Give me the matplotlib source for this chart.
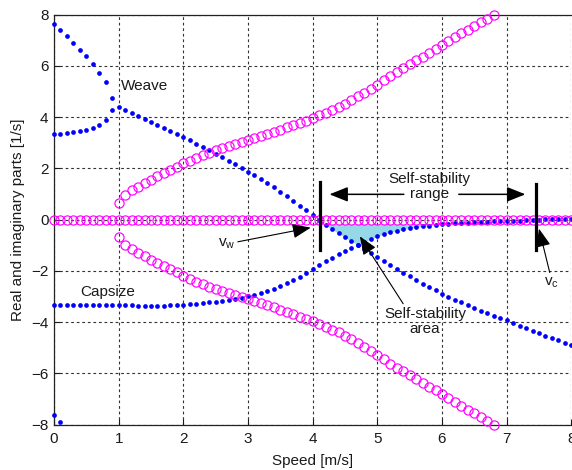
import numpy as np
import matplotlib
matplotlib.use('Agg')
import matplotlib.pyplot as plt

plt.rcParams['font.family'] = ['Liberation Sans', 'DejaVu Sans']
plt.rcParams['mathtext.fontset'] = 'custom'
plt.rcParams['mathtext.rm'] = 'Liberation Sans'
plt.rcParams['mathtext.default'] = 'regular'

# speed grid [m/s], one sample every 0.1
speed = np.round(np.arange(81) * 0.1, 1)

# real part: upper branch at v<1, then weave real part
weave_re = [7.64, 7.41, 7.18, 6.90, 6.63, 6.37, 6.09, 5.74, 5.37, 4.74,
            4.39, 4.29, 4.16, 4.04, 3.93, 3.80, 3.68, 3.56, 3.45, 3.34,
            3.22, 3.10, 2.97, 2.84, 2.71, 2.58, 2.45, 2.31, 2.17, 2.03,
            1.88, 1.73, 1.58, 1.42, 1.26, 1.09, 0.92, 0.74, 0.55, 0.36,
            0.17, -0.02, -0.20, -0.37, -0.53, -0.69, -0.84, -0.99, -1.15, -1.31,
            -1.47, -1.63, -1.78, -1.93, -2.07, -2.21, -2.35, -2.49, -2.62, -2.75,
            -2.88, -3.00, -3.12, -3.23, -3.34, -3.45, -3.55, -3.65, -3.75, -3.84,
            -3.93, -4.03, -4.13, -4.23, -4.33, -4.42, -4.52, -4.61, -4.71, -4.80,
            -4.90]

# second positive real root before it joins the weave (v = 0 .. 0.9)
speed_low = speed[:10]
lower_re = [3.33, 3.33, 3.37, 3.41, 3.45, 3.49, 3.58, 3.69, 3.90, 4.27]

# capsize mode
capsize_re = [-3.31, -3.31, -3.31, -3.31, -3.31, -3.31, -3.31, -3.31, -3.31, -3.31,
              -3.31, -3.32, -3.34, -3.35, -3.35, -3.35, -3.35, -3.35, -3.34, -3.33,
              -3.31, -3.30, -3.28, -3.26, -3.23, -3.20, -3.17, -3.13, -3.09, -3.04,
              -2.99, -2.93, -2.87, -2.80, -2.71, -2.60, -2.48, -2.36, -2.22, -2.07,
              -1.92, -1.77, -1.62, -1.48, -1.35, -1.22, -1.10, -0.98, -0.86, -0.75,
              -0.65, -0.56, -0.49, -0.43, -0.38, -0.33, -0.29, -0.26, -0.23, -0.20,
              -0.18, -0.16, -0.14, -0.13, -0.11, -0.10, -0.09, -0.08, -0.07, -0.06,
              -0.05, -0.04, -0.035, -0.03, -0.02, 0.0, 0.01, 0.02, 0.03, 0.03,
              0.04]

# castering mode, only the first two points are inside the plot
speed_cast = [0.0, 0.1]
castering_re = [-7.63, -7.89]

# weave imaginary part (+/-), visible from 1.0 to 6.8 m/s
speed_im = speed[10:69]
weave_im = [0.66, 0.97, 1.14, 1.28, 1.42, 1.56, 1.69, 1.82, 1.94, 2.06,
            2.20, 2.31, 2.42, 2.52, 2.62, 2.71, 2.79, 2.87, 2.95, 3.03,
            3.10, 3.17, 3.25, 3.33, 3.42, 3.51, 3.60, 3.69, 3.78, 3.87,
            3.97, 4.08, 4.18, 4.29, 4.40, 4.53, 4.67, 4.81, 4.96, 5.11,
            5.27, 5.45, 5.62, 5.77, 5.91, 6.07, 6.22, 6.36, 6.51, 6.66,
            6.81, 6.97, 7.13, 7.28, 7.41, 7.55, 7.70, 7.85, 8.00]

# imaginary part of the real modes
zero_im = np.zeros(len(speed))

v_weave = 4.12
v_capsize = 7.45

weave_re = np.array(weave_re)
capsize_re = np.array(capsize_re)
weave_im = np.array(weave_im)

fig = plt.figure(figsize=(5.72, 4.70), dpi=100)
ax = fig.add_axes([54 / 572, 45.3 / 470, 517.3 / 572, 410 / 470])

# shaded self-stable region
top = -0.18
upper = np.maximum(weave_re, capsize_re)
ax.fill_between(speed, upper, top, where=upper < top, interpolate=True,
                color='#96d7e8', lw=0, zorder=1)

dot = dict(ls='none', marker='o', ms=3.4, mew=0, color='#0000ff', zorder=3, clip_on=False)
ring = dict(ls='none', marker='o', ms=6.6, mfc='none', mec='#ff00ff', mew=0.85,
            zorder=4, clip_on=False)

ax.plot(speed, weave_re, **dot)
ax.plot(speed_low, lower_re, **dot)
ax.plot(speed, capsize_re, **dot)
ax.plot(speed_cast, castering_re, **dot)

ax.plot(speed, zero_im, **ring)
ax.plot(speed_im, weave_im, **ring)
ax.plot(speed_im, -weave_im, **ring)

ax.set_xlim(0, 8)
ax.set_ylim(-8, 8)
ax.set_xticks(range(0, 9))
ax.set_yticks(range(-8, 9, 2))
ax.grid(True, color='#333333', ls=(0, (2.5, 2.5)), lw=0.8)
ax.set_axisbelow(True)
ax.tick_params(direction='in', length=4, labelsize=11, colors='#1a1a1a')
ax.tick_params(axis='x', pad=5)
ax.tick_params(axis='y', pad=4)
for side in ['left', 'bottom', 'top']:
    ax.spines[side].set_linewidth(0.9)
    ax.spines[side].set_color('#222222')
ax.spines['right'].set_visible(False)

ax.set_xlabel('Speed [m/s]', fontsize=11, color='#1a1a1a')
ax.set_ylabel('Real and imaginary parts [1/s]', fontsize=11, color='#1a1a1a')
ax.xaxis.set_label_coords(0.499, -0.072)
ax.yaxis.set_label_coords(-0.057, 0.5)

# stability limits
ax.plot([v_weave, v_weave], [-1.18, 1.48], color='k', lw=2.3, zorder=5)
ax.plot([v_capsize, v_capsize], [-1.2, 1.38], color='k', lw=2.3, zorder=5)

txt = dict(fontsize=11, color='#1a1a1a')
ax.text(1.03, 5.2, 'Weave', va='center', ha='left', **txt)
ax.text(0.40, -2.82, 'Capsize', va='center', ha='left', **txt)

head = dict(arrowstyle='-|>,head_length=0.75,head_width=0.3', color='k',
            lw=1.1, mutation_scale=15, shrinkA=0, shrinkB=0)
ax.annotate('', xy=(4.26, 0.99), xytext=(5.41, 0.99), arrowprops=head, zorder=6)
ax.annotate('', xy=(7.29, 0.99), xytext=(6.26, 0.99), arrowprops=head, zorder=6)
ax.text(5.81, 1.30, 'Self-stability\nrange', ha='center', va='center',
        linespacing=1.05, zorder=7, **txt)

thin = dict(head, lw=0.8)
ax.annotate(r'$v_w$', xy=(3.97, -0.31), xytext=(2.80, -0.95),
            ha='right', va='center', arrowprops=thin, zorder=6, **txt)
ax.annotate(r'$v_c$', xy=(7.50, -0.35), xytext=(7.70, -2.45),
            ha='center', va='center', arrowprops=dict(thin, relpos=(0.4, 1.0)),
            zorder=6, **txt)
ax.annotate('', xy=(4.73, -0.65), xytext=(5.40, -3.28), arrowprops=thin, zorder=6)
ax.text(5.74, -3.98, 'Self-stability\narea', ha='center', va='center',
        linespacing=1.05, zorder=7, **txt)

fig.savefig('out.png', dpi=100)
